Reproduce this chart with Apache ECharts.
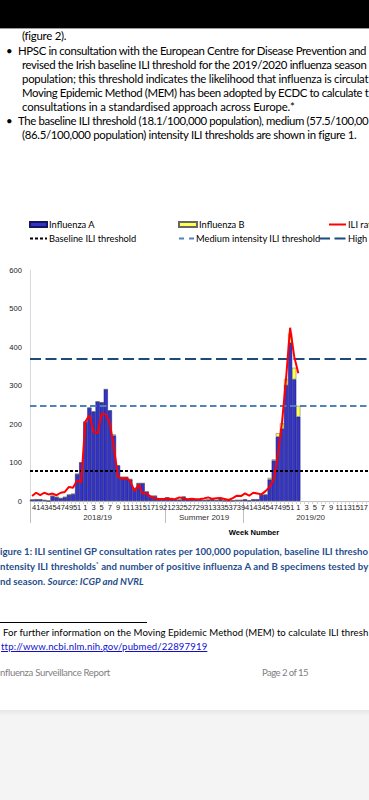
<!DOCTYPE html>
<html><head><meta charset="utf-8">
<script src="https://cdn.jsdelivr.net/npm/echarts@6/dist/echarts.min.js"></script>
<style>
html,body{margin:0;padding:0;width:369px;height:800px;overflow:hidden;background:#fff;}
#page{position:absolute;left:0;top:0;width:369px;height:800px;overflow:hidden;background:#fff;}
#chart{position:absolute;left:0;top:0;width:520px;height:600px;}
.t{position:absolute;white-space:nowrap;font-family:Lato,'Liberation Sans',sans-serif;font-size:11.4px;color:#000;line-height:14px;}
.cap{position:absolute;white-space:nowrap;font-family:Lato,'Liberation Sans',sans-serif;font-size:9.6px;font-weight:bold;color:#1f4e8c;line-height:12px;}
.ft{position:absolute;white-space:nowrap;font-family:Lato,'Liberation Sans',sans-serif;font-size:9.6px;color:#000;line-height:12px;}
</style></head><body>
<div id="page">
<div id="chart"></div>
<div style="position:absolute;left:0;top:0;width:369px;height:28px;background:#000"></div>
<div style="position:absolute;left:0;top:28px;width:369px;height:1px;background:#9a9a9a"></div>
<div class="t fit" data-r="66" style="left:22px;top:29px">(figure 2).</div>
<div class="t" style="left:6px;top:44px">•</div>
<div class="t fit" data-r="366.5" style="left:18px;top:44px">HPSC in consultation with the European Centre for Disease Prevention and</div>
<div class="t fit" data-r="366.5" style="left:22px;top:58px">revised the Irish baseline ILI threshold for the 2019/2020 influenza season</div>
<div class="t fit" data-r="368.5" style="left:22px;top:72px">population; this threshold indicates the likelihood that influenza is circulat</div>
<div class="t fit" data-r="368.5" style="left:22px;top:86px">Moving Epidemic Method (MEM) has been adopted by ECDC to calculate t</div>
<div class="t fit" data-r="295" style="left:22px;top:100px">consultations in a standardised approach across Europe.*</div>
<div class="t" style="left:6px;top:114px">•</div>
<div class="t fit" data-r="368.5" style="left:18px;top:114px">The baseline ILI threshold (18.1/100,000 population), medium (57.5/100,00</div>
<div class="t fit" data-r="356.5" style="left:22px;top:128px">(86.5/100,000 population) intensity ILI thresholds are shown in figure 1.</div>

<div id="cap1" class="cap fit" data-r="368.5" style="left:0px;top:546px">igure 1: ILI sentinel GP consultation rates per 100,000 population, baseline ILI thresho</div>
<div class="cap fit" data-r="368.5" style="left:0px;top:561px">ntensity ILI thresholds<sup style="font-size:6px;line-height:0">*</sup> and number of positive influenza A and B specimens tested by</div>
<div id="cap3" class="cap" style="left:0px;top:576px">nd season. <i>Source: ICGP and NVRL</i></div>

<div style="position:absolute;left:0;top:622px;width:147px;height:1px;background:#000"></div>
<div class="ft fit" data-r="368.5" style="left:3px;top:627px">For further information on the Moving Epidemic Method (MEM) to calculate ILI thresh</div>
<div class="ft fit" data-r="207" style="left:1px;top:641px;color:#1010cc;text-decoration:underline">ttp://www.ncbi.nlm.nih.gov/pubmed/22897919</div>
<div class="ft fit" data-r="110" style="left:0px;top:667px;color:#7f7f7f">nfluenza Surveillance Report</div>
<div class="ft fit" data-r="308" style="left:262px;top:667px;color:#7f7f7f">Page 2 of 15</div>
<div style="position:absolute;left:0;top:710px;width:369px;height:90px;background:linear-gradient(#e6e6e6,#f4f4f4 6px,#f4f4f4)"></div>
</div>
<script>
// fit page text lines to the widths seen in the reference
document.querySelectorAll('.fit').forEach(el => {
  const left = parseFloat(el.style.left);
  const target = parseFloat(el.dataset.r) - left;
  const w = el.getBoundingClientRect().width;
  const n = el.textContent.length;
  if (n > 1) el.style.letterSpacing = ((target - w) / n).toFixed(3) + 'px';
});
document.getElementById('cap3').style.letterSpacing = document.getElementById('cap1').style.letterSpacing;

// Week categories: 2018 wk40-52, 2019 wk1-39, 2019 wk40-52, 2020 wk1-20
const weeks = [40,41,42,43,44,45,46,47,48,49,50,51,52,
  1,2,3,4,5,6,7,8,9,10,11,12,13,14,15,16,17,18,19,20,
  21,22,23,24,25,26,27,28,29,30,31,32,33,34,35,36,37,38,39,
  40,41,42,43,44,45,46,47,48,49,50,51,52,
  1,2,3,4,5,6,7,8,9,10,11,12,13,14,15,16,17,18,19,20];
const seasonNames = ['2018/19','Summer 2019','2019/20'];
const seasonLengths = [33, 19, 33];
// Number of positive influenza A specimens
const fluA = [3,4,4,2,0,13,10,7,10,16,18,70,100,
  205,242,232,258,256,290,235,170,92,62,62,56,33,46,46,24,13,13,6,6,
  9,7,3,3,11,4,4,3,3,2,3,5,2,5,1,1,1,2,2,
  4,1,4,4,16,16,56,105,167,188,301,411,316,
  219,null,null,null,null,null,null,null,null,null,null,null,null,null,null,null,null,null,null,null];
// Number of positive influenza B specimens
const fluB = [1,0,0,0,0,0,0,0,0,0,0,0,0,
  2,0,0,0,0,0,0,3,0,0,0,1,0,0,0,0,0,0,0,0,
  0,0,0,0,0,0,0,0,0,0,0,0,0,0,0,0,0,0,0,
  0,0,0,0,0,1,4,3,9,14,16,24,30,
  28,null,null,null,null,null,null,null,null,null,null,null,null,null,null,null,null,null,null,null];
// ILI sentinel GP consultation rate per 100,000
const iliRate = [3,5,3.5,5,4,4.5,3.5,5,5.5,8.5,8,12.5,11.5,
  48,52,42,41,53,52.5,47,32,14.5,13.5,14,12,6,10,4.5,4.5,2.5,1.5,1.2,1.2,
  1.5,1,1.2,2.2,1.5,1,1.3,1,1.2,1.5,2.2,1.3,1.6,1.8,1.2,0.6,1.8,3.2,3,
  4.6,3.2,5,4.6,4,6,8.5,13,28,47,74,105,87.5,
  77.4,null,null,null,null,null,null,null,null,null,null,null,null,null,null,null,null,null,null,null];
const thresholdNames = ['Baseline ILI threshold','Medium intensity ILI threshold','High intensity ILI threshold'];
const thresholdValues = [18.1, 57.5, 86.5];
const yTicksLeft = {min:0, max:600, interval:100};
const yRight = {min:0, max:140};

const seasonEdges = [0];
seasonLengths.forEach(l => seasonEdges.push(seasonEdges[seasonEdges.length-1] + l));
const seasonMids = seasonLengths.map((l,i) => seasonEdges[i] + l/2);
const lastVisibleLabel = 81; // labels beyond the page edge are not drawn

const F = "'Liberation Sans', Arial, sans-serif";
const LF = "Lato, 'Liberation Sans', sans-serif";
const thrStyles = [
  {color:'#000000', width:2, type:[3,2]},
  {color:'#4f81bd', width:1.8, type:[6.5,3.5]},
  {color:'#1f497d', width:2, type:[11,4.5]}
];

const chart = echarts.init(document.getElementById('chart'), null, {renderer:'svg'});
const legendText = {fontFamily: LF, fontSize: 9.3, color:'#000', padding:[0,0,0,-3]};
const noDot = {itemStyle:{opacity:0, borderWidth:0}};
const lg = (name, left, top, w, extra) => Object.assign({data:[name], left, top, itemWidth:w, itemHeight:5,
  textStyle:legendText, padding:0, selectedMode:false}, extra || {});
const option = {
  animation:false,
  grid:{left:30, top:270, width:348.2, height:231, containLabel:false, outerBoundsMode:'none'},
  legend:[
    lg('Influenza A', 29, 220, 17, {icon:'rect'}),
    lg('Influenza B', 178, 220, 18, {icon:'rect'}),
    lg('ILI rate', 328, 220, 17, noDot),
    lg(thresholdNames[0], 29, 234, 17, noDot),
    lg(thresholdNames[1], 178, 234, 15, Object.assign({lineStyle:{type:[5,5]}}, noDot)),
    lg(thresholdNames[2], 318, 234, 27, noDot)
  ],
  xAxis:[
    {type:'category', data:weeks, boundaryGap:true, position:'bottom',
     axisLine:{lineStyle:{color:'#bfbfbf', width:1}},
     axisTick:{show:true, interval:0, length:3, lineStyle:{color:'#d0d0d0'}},
     axisLabel:{interval:(i)=> i%2===1 && i<=lastVisibleLabel, fontSize:7.5, margin:2, color:'#222', fontFamily:F, hideOverlap:false},
     splitLine:{show:false}},
    {type:'value', min:0, max:seasonEdges[seasonEdges.length-1], position:'bottom',
     axisLine:{show:false}, splitLine:{show:false},
     axisTick:{show:true, customValues:seasonEdges, length:22, lineStyle:{color:'#bfbfbf'}},
     axisLabel:{customValues:seasonMids, margin:12, fontSize:8, color:'#333', fontFamily:F,
       formatter:(v)=>{const i=seasonMids.indexOf(v); return i>=0?seasonNames[i]:'';}}}
  ],
  yAxis:[
    {type:'value', min:yTicksLeft.min, max:yTicksLeft.max, interval:yTicksLeft.interval,
     name:'Number of positive specimens', nameLocation:'middle', nameGap:18,
     nameTextStyle:{fontFamily:F, fontSize:7.6, fontWeight:'bold', color:'#000'},
     axisLine:{show:true, lineStyle:{color:'#d9d9d9'}}, axisTick:{show:false},
     axisLabel:{fontSize:7.6, margin:8, color:'#222', fontFamily:F}, splitLine:{show:false}},
    {type:'value', min:yRight.min, max:yRight.max, show:false, splitLine:{show:false}}
  ],
  graphic:[
    {type:'text', x:254, y:532, style:{text:'Week Number', textAlign:'center', textVerticalAlign:'middle', font:"bold 7.6px 'Liberation Sans', Arial, sans-serif", fill:'#000'}}
  ],
  series:[
    {name:'Influenza A', type:'bar', stack:'flu', data:fluA, barCategoryGap:'0%',
     itemStyle:{color:'#3434c8', borderColor:'#16165a', borderWidth:0.5}},
    {name:'Influenza B', type:'bar', stack:'flu', data:fluB, barCategoryGap:'0%',
     itemStyle:{color:'#ffff55', borderColor:'#666', borderWidth:0.5}},
    {name:'ILI rate', type:'line', yAxisIndex:1, data:iliRate, symbol:'none',
     lineStyle:{color:'#ff0000', width:2}, itemStyle:{color:'#ff0000'}, z:5},
  ].concat(thresholdNames.map((n,i)=>({
     name:n, type:'line', yAxisIndex:1, data:[], symbol:'none',
     lineStyle:thrStyles[i], itemStyle:{color:thrStyles[i].color}, z:4,
     markLine:{silent:true, symbol:'none', label:{show:false}, lineStyle:thrStyles[i],
       data:[{yAxis:thresholdValues[i]}]}
  })))
};
chart.setOption(option);
</script>
</body></html>
